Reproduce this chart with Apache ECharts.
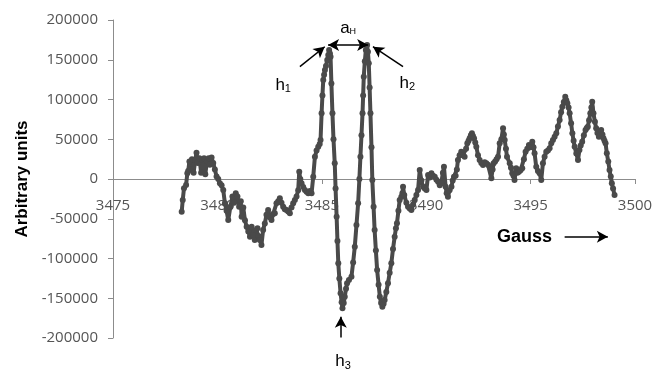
<!DOCTYPE html>
<html>
<head>
<meta charset="utf-8">
<script src="https://cdn.jsdelivr.net/npm/echarts@6.0.0/dist/echarts.min.js"></script>
<style>
  html, body { margin: 0; padding: 0; background: #ffffff; }
  #chart { width: 658px; height: 372px; }
</style>
</head>
<body>
<div id="chart"></div>
<script>
// EPR spectrum: field (Gauss) vs. signal (arbitrary units)
const gauss = [
  3478.29, 3478.34, 3478.40, 3478.50, 3478.56, 3478.60, 3478.66, 3478.72, 3478.78, 3478.86,
  3478.94, 3479.00, 3479.06, 3479.14, 3479.22, 3479.28, 3479.36, 3479.42, 3479.50, 3479.58,
  3479.64, 3479.72, 3479.80, 3479.88, 3479.96, 3480.04, 3480.12, 3480.20, 3480.28, 3480.36,
  3480.44, 3480.52, 3480.62, 3480.72, 3480.80, 3480.88, 3480.96, 3481.04, 3481.12, 3481.16,
  3481.24, 3481.32, 3481.40, 3481.48, 3481.56, 3481.64, 3481.72, 3481.79, 3481.86, 3481.92,
  3481.98, 3482.03, 3482.11, 3482.19, 3482.27, 3482.35, 3482.43, 3482.51, 3482.59, 3482.67,
  3482.75, 3482.83, 3482.91, 3482.99, 3483.07, 3483.15, 3483.23, 3483.31, 3483.39, 3483.47,
  3483.55, 3483.63, 3483.71, 3483.79, 3483.87, 3483.92, 3483.97, 3484.03, 3484.11, 3484.19,
  3484.27, 3484.35, 3484.43, 3484.51, 3484.59, 3484.67, 3484.75, 3484.83, 3484.90, 3484.94,
  3484.99, 3485.03, 3485.07, 3485.11, 3485.15, 3485.20, 3485.26, 3485.31, 3485.35, 3485.39,
  3485.42, 3485.46, 3485.51, 3485.56, 3485.62, 3485.66, 3485.71, 3485.75, 3485.79, 3485.84,
  3485.90, 3485.95, 3485.99, 3486.05, 3486.10, 3486.16, 3486.21, 3486.30, 3486.42, 3486.50,
  3486.58, 3486.66, 3486.74, 3486.80, 3486.85, 3486.90, 3486.95, 3486.98, 3487.01, 3487.06,
  3487.11, 3487.17, 3487.21, 3487.25, 3487.29, 3487.33, 3487.38, 3487.42, 3487.48, 3487.53,
  3487.59, 3487.65, 3487.72, 3487.78, 3487.84, 3487.90, 3487.96, 3488.01, 3488.09, 3488.17,
  3488.25, 3488.33, 3488.41, 3488.49, 3488.55, 3488.60, 3488.67, 3488.73, 3488.81, 3488.86,
  3488.89, 3488.95, 3489.05, 3489.13, 3489.21, 3489.29, 3489.37, 3489.45, 3489.53, 3489.61,
  3489.69, 3489.77, 3489.85, 3489.93, 3490.01, 3490.09, 3490.17, 3490.25, 3490.33, 3490.41,
  3490.49, 3490.57, 3490.65, 3490.72, 3490.80, 3490.85, 3490.93, 3490.98, 3491.04, 3491.12,
  3491.21, 3491.27, 3491.33, 3491.41, 3491.47, 3491.52, 3491.60, 3491.68, 3491.76, 3491.84,
  3491.91, 3491.97, 3492.03, 3492.08, 3492.14, 3492.19, 3492.24, 3492.29, 3492.35, 3492.40,
  3492.48, 3492.56, 3492.64, 3492.72, 3492.80, 3492.88, 3492.96, 3493.04, 3493.12, 3493.18,
  3493.23, 3493.30, 3493.37, 3493.44, 3493.52, 3493.60, 3493.68, 3493.72, 3493.76, 3493.82,
  3493.87, 3494.00, 3494.06, 3494.12, 3494.18, 3494.23, 3494.31, 3494.37, 3494.44, 3494.52,
  3494.60, 3494.68, 3494.76, 3494.84, 3494.92, 3495.00, 3495.08, 3495.14, 3495.19, 3495.27,
  3495.35, 3495.43, 3495.51, 3495.59, 3495.67, 3495.75, 3495.83, 3495.91, 3495.99, 3496.07,
  3496.15, 3496.23, 3496.31, 3496.39, 3496.46, 3496.52, 3496.59, 3496.66, 3496.71, 3496.76,
  3496.82, 3496.87, 3496.94, 3497.00, 3497.06, 3497.11, 3497.19, 3497.27, 3497.34, 3497.40,
  3497.47, 3497.55, 3497.63, 3497.69, 3497.74, 3497.80, 3497.86, 3497.91, 3497.95, 3498.01,
  3498.08, 3498.14, 3498.20, 3498.27, 3498.33, 3498.38, 3498.44, 3498.49, 3498.54, 3498.59,
  3498.65, 3498.72, 3498.78, 3498.84, 3498.89, 3498.95, 3499.02
];

const intensity = [
  -41100, -26400, -11700, -7500, 7200, 10000, 22000, 12000, 25000, 8000,
  24000, 33000, 20000, 26000, 8000, 24000, 26000, 6000, 22000, 26000,
  18000, 27000, 20000, 12000, 3000, 0, -5400, -8000, -13800, -30600,
  -40000, -51600, -35000, -22000, -30000, -18000, -22000, -35000, -28000, -47400,
  -36000, -52000, -60000, -66000, -72600, -60000, -70000, -76700, -64000, -62000,
  -72000, -76700, -83000, -64000, -56000, -45000, -39000, -48000, -51600, -44000,
  -43000, -30600, -28000, -24300, -30000, -34800, -38000, -39000, -41000, -43000,
  -36000, -30600, -26400, -22000, -14000, 9200, 0, -5400, -10000, -13800,
  -16000, -18000, -15000, -18000, 2900, 28000, 36000, 40600, 44000, 49000,
  82600, 105000, 124500, 131000, 137000, 142000, 149700, 156000, 162300, 158000,
  153800, 120000, 82600, 50000, 19700, -12000, -47400, -78000, -106000, -125000,
  -143800, -155000, -162700, -156000, -148000, -138000, -131200, -127000, -122900, -105000,
  -85200, -58000, -30600, 0, 28000, 55000, 82600, 105000, 128700, 148000,
  162300, 168600, 160000, 145500, 115000, 82600, 40000, -1300, -35000, -64200,
  -90000, -114500, -133000, -148000, -156000, -160600, -157000, -152200, -142000, -131200,
  -118000, -106000, -88000, -72600, -62000, -55700, -40000, -26400, -22200, -18000,
  -9700, -20000, -30000, -34800, -37000, -39000, -32000, -26400, -20000, -13800,
  11300, -2000, -9700, -12000, -13800, 5000, 2000, 7200, 4000, 2900,
  -1000, -3400, -8000, -5400, 8000, 15500, -9700, -18000, -22200, -14000,
  -9700, -2000, 2900, 4000, 12000, 23900, 30000, 34300, 30000, 28000,
  38000, 44900, 48000, 51200, 55000, 57500, 54000, 51200, 46000, 40600,
  30000, 23900, 20000, 17600, 21000, 19700, 18000, 15500, 900, 12000,
  19700, 22000, 25000, 28000, 44900, 50000, 63800, 56000, 49000, 38000,
  28000, 19700, 14000, 7200, 4000, -1300, 13400, 8000, 9200, 11000,
  13400, 25000, 34300, 38000, 42800, 40000, 46900, 40000, 32300, 15500,
  10000, 7200, -1300, 19700, 28000, 34300, 36000, 38600, 45000, 49000,
  53000, 57500, 66000, 74200, 84000, 90900, 97000, 103500, 99000, 95200,
  90000, 82600, 70000, 57500, 48000, 40600, 32000, 23900, 36500, 42000,
  46900, 55000, 61600, 64000, 65800, 74000, 82600, 90000, 97200, 82600,
  72000, 63800, 58000, 53200, 58000, 61600, 56000, 51200, 48000, 44900,
  32300, 22000, 11300, 3000, -5400, -12000, -20100
];

// Axis ranges and tick spacing
const xMin = 3475, xMax = 3500, xStep = 5;
const yMin = -200000, yMax = 200000, yStep = 50000;
const xAxisTitle = 'Gauss';
const yAxisTitle = 'Arbitrary units';

// Annotation arrows, in data units: [from, to]
const arrowH1 = [[3483.95, 141300], [3485.14, 166400]];
const arrowH2 = [[3488.89, 141300], [3487.45, 166400]];
const arrowAH = [[3485.30, 168600], [3487.22, 168600]];
const arrowH3 = [[3485.91, -199500], [3485.91, -173200]];
const arrowGauss = [[3496.63, -72600], [3498.70, -72600]];

// Annotation labels, in data units
const labelH1 = [3483.15, 118300];
const labelH2 = [3489.10, 120400];
const labelAH = [3486.26, 189600];
const labelH3 = [3486.02, -229800];
const labelGauss = [3494.71, -72600];

const points = gauss.map((g, i) => [g, intensity[i]]);

const chart = echarts.init(document.getElementById('chart'), null, { renderer: 'canvas' });

const tickFont = { fontFamily: '"Open Sans", "Liberation Sans", sans-serif', fontSize: 15, color: '#555555' };

// Plot area: the horizontal axis is drawn across the middle, where signal = 0
const gridTop = 20, gridBottom = 34;
const plotHeight = 372 - gridTop - gridBottom;
const zeroShift = plotHeight * (0 - yMin) / (yMax - yMin);

function arrowLine(pair, both) {
  return [
    { coord: pair[0], symbol: both ? 'arrow' : 'none' },
    { coord: pair[1], symbol: 'arrow' }
  ];
}

chart.setOption({
  animation: false,
  backgroundColor: '#ffffff',
  grid: { left: 113, right: 23, top: gridTop, bottom: gridBottom, containLabel: false },
  xAxis: {
    type: 'value',
    position: 'bottom',
    offset: -zeroShift,
    min: xMin, max: xMax, interval: xStep,
    axisLine: { show: true, onZero: false, lineStyle: { color: '#8c8c8c', width: 1 } },
    axisTick: { show: true, length: 5, lineStyle: { color: '#8c8c8c' } },
    axisLabel: Object.assign({ margin: 19, formatter: v => String(v) }, tickFont),
    splitLine: { show: false }
  },
  yAxis: {
    type: 'value',
    min: yMin, max: yMax, interval: yStep,
    name: yAxisTitle,
    nameLocation: 'middle',
    nameGap: 73,
    nameTextStyle: { fontFamily: '"Liberation Sans", Arial, sans-serif', fontWeight: 'bold', fontSize: 17, color: '#000000' },
    axisLine: { show: true, onZero: false, lineStyle: { color: '#8c8c8c', width: 1 } },
    axisTick: { show: true, length: 5, lineStyle: { color: '#8c8c8c' } },
    axisLabel: Object.assign({ margin: 15, formatter: v => String(v) }, tickFont),
    splitLine: { show: false }
  },
  series: [{
    type: 'line',
    data: points,
    clip: false,
    showSymbol: true,
    showAllSymbol: true,
    symbol: 'circle',
    symbolSize: 6,
    lineStyle: { color: '#4a4a4a', width: 4 },
    itemStyle: { color: '#4a4a4a' },
    emphasis: { disabled: true },
    markLine: {
      silent: true,
      animation: false,
      symbolSize: [9, 11],
      label: { show: false },
      lineStyle: { type: 'solid', color: '#000000', width: 1.5 },
      emphasis: { disabled: true },
      data: [
        arrowLine(arrowH1, false),
        arrowLine(arrowH2, false),
        arrowLine(arrowAH, true),
        arrowLine(arrowH3, false),
        arrowLine(arrowGauss, false)
      ]
    }
  }]
});

// Text labels placed through the chart's coordinate conversion
const subRich = {
  b: { fontFamily: '"Liberation Sans", Arial, sans-serif', fontSize: 17, fill: '#000000' },
  s: { fontFamily: '"Liberation Sans", Arial, sans-serif', fontSize: 11, fill: '#000000', padding: [8, 0, 0, 0] },
  sh: { fontFamily: '"Liberation Sans", Arial, sans-serif', fontSize: 9, fill: '#000000', padding: [6, 0, 0, 0] }
};

function textAt(coord, text, extra) {
  const p = chart.convertToPixel({ gridIndex: 0 }, coord);
  return {
    type: 'text',
    x: p[0], y: p[1],
    silent: true,
    z: 100,
    style: Object.assign({
      text: text,
      align: 'center',
      verticalAlign: 'middle',
      rich: subRich
    }, extra || {})
  };
}

chart.setOption({
  graphic: [
    textAt(labelH1, '{b|h}{s|1}'),
    textAt(labelH2, '{b|h}{s|2}'),
    textAt(labelAH, '{b|a}{sh|H}'),
    textAt(labelH3, '{b|h}{s|3}'),
    textAt(labelGauss, xAxisTitle, {
      fontFamily: '"Liberation Sans", Arial, sans-serif',
      fontWeight: 'bold',
      fontSize: 18,
      fill: '#000000',
      rich: null
    })
  ]
});
</script>
</body>
</html>
